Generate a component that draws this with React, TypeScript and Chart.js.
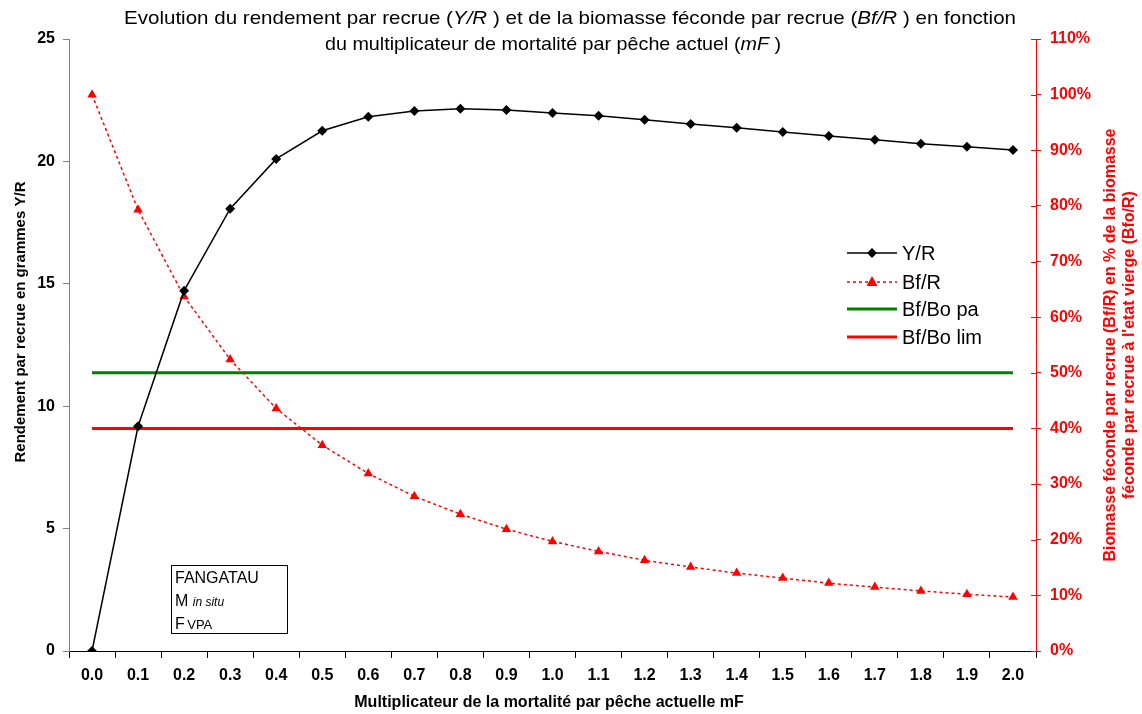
import React, { useEffect, useRef } from 'react';
import { Chart, registerables } from 'chart.js';

Chart.register(...registerables);

const categories = ['0.0', '0.1', '0.2', '0.3', '0.4', '0.5', '0.6', '0.7', '0.8', '0.9', '1.0', '1.1', '1.2', '1.3', '1.4', '1.5', '1.6', '1.7', '1.8', '1.9', '2.0'];
const yieldPerRecruit = [0, 9.18, 14.72, 18.07, 20.1, 21.25, 21.82, 22.06, 22.15, 22.1, 21.98, 21.86, 21.7, 21.53, 21.37, 21.2, 21.04, 20.88, 20.72, 20.6, 20.47];
const spawningBiomassPct = [100, 79.3, 63.7, 52.4, 43.6, 37.0, 31.9, 27.8, 24.6, 21.9, 19.7, 17.9, 16.3, 15.1, 14.0, 13.1, 12.2, 11.5, 10.8, 10.2, 9.7];
const bfBoPa = 50;
const bfBoLim = 40;
const leftAxisMax = 25;
const leftAxisStep = 5;
const rightAxisMax = 110;
const rightAxisStep = 10;

const FONT = 'Arial, "Liberation Sans", sans-serif';

const overlayPlugin = {
  id: 'overlay',
  afterDraw(chart: any) {
    const ctx = chart.ctx as CanvasRenderingContext2D;
    ctx.save();

    // right axis inner tick halves
    const y2 = chart.scales.y2;
    ctx.strokeStyle = '#FF0000';
    ctx.lineWidth = 1;
    y2.ticks.forEach((t: any) => {
      const py = Math.round(y2.getPixelForValue(t.value)) + 0.5;
      ctx.beginPath();
      ctx.moveTo(y2.left - 5, py);
      ctx.lineTo(y2.left, py);
      ctx.stroke();
    });

    // Title with mixed italic, stretched horizontally to a target width
    const drawMixed = (parts: [string, boolean][], x0: number, x1: number, y: number, size: number) => {
      let total = 0;
      const widths = parts.map(([s, it]) => {
        ctx.font = `${it ? 'italic ' : ''}${size}px ${FONT}`;
        const w = ctx.measureText(s).width;
        total += w;
        return w;
      });
      const sx = (x1 - x0) / total;
      ctx.save();
      ctx.translate(x0, y);
      ctx.scale(sx, 1);
      let x = 0;
      ctx.textAlign = 'left';
      ctx.textBaseline = 'alphabetic';
      ctx.fillStyle = '#000';
      parts.forEach(([s, it], i) => {
        ctx.font = `${it ? 'italic ' : ''}${size}px ${FONT}`;
        ctx.fillText(s, x, 0);
        x += widths[i];
      });
      ctx.restore();
    };
    drawMixed([
      ['Evolution du rendement par recrue (', false], ['Y/R ', true], [') et de la biomasse féconde par recrue (', false], ['Bf/R ', true], [') en fonction', false]
    ], 124, 1016, 24, 19);
    drawMixed([
      ['du multiplicateur de mortalité par pêche actuel (', false], ['mF ', true], [')', false]
    ], 325, 781, 50, 19);

    // Left axis title
    ctx.fillStyle = '#000';
    ctx.font = `bold 15px ${FONT}`;
    ctx.textAlign = 'center';
    ctx.textBaseline = 'middle';
    ctx.save();
    ctx.translate(21, 322);
    ctx.rotate(-Math.PI / 2);
    ctx.fillText('Rendement par recrue en grammes Y/R', 0, 0);
    ctx.restore();

    // Right axis title
    ctx.fillStyle = '#FF0000';
    ctx.font = `bold 16px ${FONT}`;
    ctx.save();
    ctx.translate(1111, 345);
    ctx.rotate(-Math.PI / 2);
    ctx.fillText('Biomasse féconde par recrue (Bf/R) en % de la biomasse', 0, 0);
    ctx.fillText("féconde par recrue à l'etat vierge (Bfo/R)", 0, 19);
    ctx.restore();

    // X axis title
    ctx.fillStyle = '#000';
    ctx.font = `bold 16px ${FONT}`;
    ctx.fillText('Multiplicateur de la mortalité par pêche actuelle mF', 549, 703);

    // Legend
    const lx0 = 847, lx1 = 897, tx = 902;
    const items = [
      { label: 'Y/R', y: 253, color: '#000', dash: [] as number[], width: 1.5, marker: 'diamond' },
      { label: 'Bf/R', y: 282, color: '#FF0000', dash: [3, 3], width: 1.5, marker: 'triangle' },
      { label: 'Bf/Bo pa', y: 309, color: '#008000', dash: [] as number[], width: 3, marker: '' },
      { label: 'Bf/Bo lim', y: 337, color: '#FF0000', dash: [] as number[], width: 3, marker: '' },
    ];
    items.forEach((it) => {
      ctx.strokeStyle = it.color;
      ctx.lineWidth = it.width;
      ctx.setLineDash(it.dash);
      ctx.beginPath();
      ctx.moveTo(lx0, it.y);
      ctx.lineTo(lx1, it.y);
      ctx.stroke();
      ctx.setLineDash([]);
      ctx.fillStyle = it.color;
      const mx = (lx0 + lx1) / 2;
      if (it.marker === 'diamond') {
        ctx.beginPath();
        ctx.moveTo(mx, it.y - 5);
        ctx.lineTo(mx + 5, it.y);
        ctx.lineTo(mx, it.y + 5);
        ctx.lineTo(mx - 5, it.y);
        ctx.closePath();
        ctx.fill();
      } else if (it.marker === 'triangle') {
        ctx.beginPath();
        ctx.moveTo(mx, it.y - 6);
        ctx.lineTo(mx + 5.5, it.y + 4);
        ctx.lineTo(mx - 5.5, it.y + 4);
        ctx.closePath();
        ctx.fill();
      }
      ctx.fillStyle = '#000';
      ctx.font = `20px ${FONT}`;
      ctx.textAlign = 'left';
      ctx.textBaseline = 'middle';
      ctx.fillText(it.label, tx, it.y + 1);
    });

    // Annotation box
    ctx.fillStyle = '#fff';
    ctx.fillRect(171.5, 565.5, 116, 68);
    ctx.strokeStyle = '#000';
    ctx.lineWidth = 1;
    ctx.strokeRect(171.5, 565.5, 116, 68);
    ctx.fillStyle = '#000';
    ctx.textBaseline = 'alphabetic';
    ctx.textAlign = 'left';
    ctx.font = `16px ${FONT}`;
    ctx.fillText('FANGATAU', 175, 583);
    ctx.fillText('M', 175, 606);
    let w = ctx.measureText('M ').width;
    ctx.font = `italic 12px ${FONT}`;
    ctx.fillText('in situ', 175 + w, 606);
    ctx.font = `16px ${FONT}`;
    ctx.fillText('F', 175, 629);
    w = ctx.measureText('F ').width;
    ctx.font = `13px ${FONT}`;
    ctx.fillText('VPA', 175 + w - 2, 629);

    ctx.restore();
  },
};

export default function App() {
  const canvasRef = useRef<HTMLCanvasElement | null>(null);

  useEffect(() => {
    if (!canvasRef.current) return;
    const tickFont = { family: FONT, size: 16, weight: 'bold' as const };
    const chart = new Chart(canvasRef.current, {
      type: 'line',
      data: {
        labels: categories,
        datasets: [
          {
            label: 'Y/R',
            data: yieldPerRecruit,
            yAxisID: 'y',
            borderColor: '#000',
            backgroundColor: '#000',
            borderWidth: 1.5,
            pointStyle: 'rectRot',
            pointRadius: 5,
            pointBorderWidth: 0,
            tension: 0,
            order: 1,
          },
          {
            label: 'Bf/R',
            data: spawningBiomassPct,
            yAxisID: 'y2',
            borderColor: '#FF0000',
            backgroundColor: '#FF0000',
            borderWidth: 1.5,
            borderDash: [3, 3],
            pointStyle: 'triangle',
            pointRadius: 5.5,
            pointBorderWidth: 0,
            tension: 0,
            order: 2,
          },
          {
            label: 'Bf/Bo pa',
            data: categories.map(() => bfBoPa),
            yAxisID: 'y2',
            borderColor: '#008000',
            borderWidth: 3,
            pointRadius: 0,
            order: 3,
          },
          {
            label: 'Bf/Bo lim',
            data: categories.map(() => bfBoLim),
            yAxisID: 'y2',
            borderColor: '#FF0000',
            borderWidth: 3,
            pointRadius: 0,
            order: 4,
          },
        ],
      },
      options: {
        animation: false,
        responsive: true,
        maintainAspectRatio: false,
        layout: { padding: { top: 39, left: 0, right: 0, bottom: 0 } },
        plugins: {
          legend: { display: false },
          title: { display: false },
          tooltip: { enabled: false },
        },
        scales: {
          x: {
            type: 'category',
            offset: true,
            grid: { offset: true, drawOnChartArea: false, tickLength: 7, color: '#000' },
            border: { color: '#000', width: 1 },
            ticks: { font: tickFont, color: '#000', padding: 8, maxRotation: 0, autoSkip: false },
            afterFit: (s: any) => { s.height = 63; },
          },
          y: {
            position: 'left',
            min: 0,
            max: leftAxisMax,
            grid: { drawOnChartArea: false, tickLength: 6, color: '#808080' },
            border: { color: '#808080', width: 1 },
            ticks: { stepSize: leftAxisStep, font: tickFont, color: '#000', padding: 8 },
            afterFit: (s: any) => { s.width = 69; },
          },
          y2: {
            position: 'right',
            min: 0,
            max: rightAxisMax,
            grid: { drawOnChartArea: false, tickLength: 5, color: '#FF0000' },
            border: { color: '#FF0000', width: 1 },
            ticks: { stepSize: rightAxisStep, font: tickFont, color: '#FF0000', padding: 9, callback: (v: any) => `${v}%` },
            afterFit: (s: any) => { s.width = 106; },
          },
        },
      },
      plugins: [overlayPlugin],
    });
    return () => chart.destroy();
  }, []);

  return (
    <div style={{ position: 'absolute', left: 0, top: 0, width: 1142, height: 714, background: '#fff' }}>
      <canvas ref={canvasRef} />
    </div>
  );
}
